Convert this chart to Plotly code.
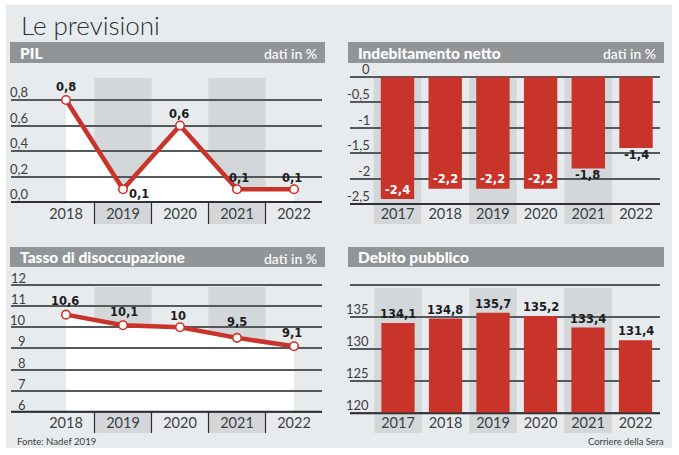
import plotly.graph_objects as go

# ---- data ----
TITLE = "Le previsioni"
years_line = ["2018", "2019", "2020", "2021", "2022"]
years_bar = ["2017", "2018", "2019", "2020", "2021", "2022"]
pil = [0.8, 0.1, 0.6, 0.1, 0.1]
pil_ticks = [0.0, 0.2, 0.4, 0.6, 0.8]
pil_ticktext = ["0,0", "0,2", "0,4", "0,6", "0,8"]
disocc = [10.6, 10.1, 10, 9.5, 9.1]
disocc_ticks = [6, 7, 8, 9, 10, 11, 12]
indeb = [-2.4, -2.2, -2.2, -2.2, -1.8, -1.4]
indeb_ticks = [0, -0.5, -1, -1.5, -2, -2.5]
indeb_ticktext = ["0", "-0,5", "-1", "-1,5", "-2", "-2,5"]
debito = [134.1, 134.8, 135.7, 135.2, 133.4, 131.4]
debito_ticks = [120, 125, 130, 135, 140]
debito_ticktext = ["120", "125", "130", "135", ""]

# ---- style ----
W, H = 679, 455
BG, BAND, HEAD = "#e7ebee", "#d3d7da", "#929597"
RED, GRID, TXT = "#c8332a", "#55595b", "#3c3e40"
FONT = "Lato"
VAL = "DejaVu Sans"

def px(x): return x / W
def py(y): return 1 - y / H

fig = go.Figure()
shapes, ann = [], []

def text(x, y, s, size=13, color=TXT, anchor="center", family=FONT, xref="paper", yref="paper", weight=None, **kw):
    f = dict(size=size, color=color, family=family)
    if weight:
        f["weight"] = weight
    ann.append(dict(x=x, y=y, text=s, xref=xref, yref=yref, showarrow=False, xanchor=anchor,
                    yanchor="middle", font=f, **kw))

def panel(n, left, right, top, bottom, x0pix, step, y0pix, yscale, y0val, cats, ticks):
    """Create axis pair n: x index 0 at x0pix, y0val at y0pix."""
    suffix = "" if n == 1 else str(n)
    fig.layout["xaxis" + suffix] = dict(
        domain=[px(left), px(right)], anchor="y" + suffix, type="category",
        categoryorder="array", categoryarray=cats,
        range=[(left - x0pix) / step, (right - x0pix) / step],
        showgrid=False, zeroline=False, showline=False, ticks="",
        ticklabelposition="inside", tickfont=dict(size=14.5, color=TXT, family=FONT),
        ticklabelstandoff=-1, fixedrange=True)
    fig.layout["yaxis" + suffix] = dict(
        domain=[py(bottom), py(top)], anchor="x" + suffix,
        range=[y0val - (bottom - y0pix) / yscale, y0val + (y0pix - top) / yscale],
        tickmode="array", tickvals=ticks, showticklabels=False, ticks="",
        showgrid=True, gridcolor=GRID, gridwidth=1.6, zeroline=False, showline=False, fixedrange=True)
    return "x" + suffix, "y" + suffix

def header(left, right, top, bottom, title, unit=True):
    shapes.append(dict(type="rect", xref="paper", yref="paper", x0=px(left), x1=px(right),
                       y0=py(bottom), y1=py(top), fillcolor=HEAD, line_width=0, layer="below"))
    text(px(left + 8), py((top + bottom) / 2), title, size=15.5, color="white",
         anchor="left", family="Lato", weight=900)
    if unit:
        text(px(right - 6), py((top + bottom) / 2 + 1), "dati in %", size=14, color="white", anchor="right", weight=500)

def bands(xr, idx, top, bottom):
    for i in idx:
        shapes.append(dict(type="rect", xref=xr, yref="paper", x0=i - .5, x1=i + .5,
                           y0=py(bottom), y1=py(top), fillcolor=BAND, line_width=0, layer="below"))

def white_under(xr, yr, vals, base):
    pts = [(0, base)] + list(enumerate(vals)) + [(len(vals) - 1, base)]
    path = "M " + " L ".join(f"{a},{b}" for a, b in pts) + " Z"
    shapes.append(dict(type="path", xref=xr, yref=yr, path=path, fillcolor="white", line_width=0, layer="below"))

def separators(xr, base_pix, bottom):
    for i in range(4):
        shapes.append(dict(type="line", xref=xr, yref="paper", x0=i + .5, x1=i + .5,
                           y0=py(bottom), y1=py(base_pix), line=dict(color="#2a2a2a", width=1.2), layer="above"))

def baseline(yr, left, right, value):
    shapes.append(dict(type="line", xref="paper", yref=yr, x0=px(left), x1=px(right), y0=value, y1=value,
                       line=dict(color="#2e3032", width=1.8), layer="above"))

def fmt(v): return str(v).replace(".", ",")

def line_trace(xr, yr, cats, vals):
    fig.add_trace(go.Scatter(x=cats, y=vals, xaxis=xr, yaxis=yr, mode="lines+markers", showlegend=False,
                             line=dict(color=RED, width=4.5),
                             marker=dict(size=8.5, color="white", line=dict(color=RED, width=1.6)),
                             cliponaxis=False))

def bar_trace(xr, yr, cats, vals, base=None):
    fig.add_trace(go.Bar(x=cats, y=[v - (base or 0) for v in vals], base=base, xaxis=xr, yaxis=yr,
                         width=0.7, marker=dict(color=RED, line_width=0), showlegend=False))

def tick_labels(vals, labels, xright, yr, shift):
    for v, s in zip(vals, labels):
        if s:
            text(px(xright), v, s, size=13, anchor="right", yref=yr, yshift=shift)

def value_labels(xr, yr, vals, xshifts, yshifts, colors=None):
    for i, v in enumerate(vals):
        text(i, v, "<b>" + fmt(v) + "</b>", size=11.5, family=VAL, xref=xr, yref=yr,
             xshift=xshifts[i], yshift=yshifts[i], color=(colors[i] if colors else "#1c1c1e"))

# background
shapes.append(dict(type="rect", xref="paper", yref="paper", x0=px(6), x1=px(672), y0=py(448), y1=py(5),
                   fillcolor=BG, line_width=0, layer="below"))
text(px(19), py(25), TITLE, size=26, color="#2c2e30", anchor="left", family="Lato", weight=300)
text(px(15), py(441), "Fonte: Nadef 2019", size=9.6, anchor="left")
text(px(666), py(441), "Corriere della Sera", size=9.4, anchor="right")

# PIL
xr, yr = panel(1, 11, 322, 78, 224, 66, 57, 202, 127.5, 0.0, years_line, pil_ticks)
header(10, 325, 42, 63, "PIL")
white_under(xr, yr, pil, 0)
bands(xr, [1, 3], 78, 224)
separators(xr, 202, 224)
baseline(yr, 11, 322, 0)
line_trace(xr, yr, years_line, pil)
tick_labels(pil_ticks, pil_ticktext, 30, yr, 8)
value_labels(xr, yr, pil, [0, 16, -1, 2, -2], [13, -5, 12, 11, 11])

# Indebitamento
xr, yr = panel(2, 350, 660, 75, 224, 397.5, 47.7, 77, 50.8, 0.0, years_bar, indeb_ticks)
header(348, 664, 42, 63, "Indebitamento netto")
bands(xr, [0, 2, 4], 77, 224)
bar_trace(xr, yr, years_bar, indeb)
baseline(yr, 350, 660, -2.5)
tick_labels(indeb_ticks, indeb_ticktext, 372, yr, 8)
value_labels(xr, yr, indeb, [0, 0, 0, 0, -1, 0], [9, 10, 10, 10, -7, -7],
             ["white", "white", "white", "white", "#1c1c1e", "#1c1c1e"])

# Tasso di disoccupazione
xr, yr = panel(3, 11, 322, 284, 433, 66, 57, 411.7, 21.1, 6, years_line, disocc_ticks)
header(10, 325, 247, 267, "Tasso di disoccupazione")
white_under(xr, yr, disocc, 6)
bands(xr, [1, 3], 287, 433)
separators(xr, 411.7, 433)
baseline(yr, 11, 322, 6)
line_trace(xr, yr, years_line, disocc)
tick_labels(disocc_ticks, [str(t) for t in disocc_ticks], 28, yr, 7)
value_labels(xr, yr, disocc, [-1, 1, -2, 0, -2], [14, 13, 11, 16, 13])

# Debito
xr, yr = panel(4, 350, 660, 284, 433, 398, 47.5, 413.3, 6.4, 120, years_bar, debito_ticks)
header(348, 664, 247, 267, "Debito pubblico", unit=False)
bands(xr, [0, 2, 4], 288, 433)
bar_trace(xr, yr, years_bar, debito, base=120)
baseline(yr, 350, 660, 120)
tick_labels(debito_ticks, debito_ticktext, 371, yr, 8)
value_labels(xr, yr, debito, [0, 0, 0, 0, 0, 0], [9, 9, 9, 9, 9, 9])

fig.update_layout(width=W, height=H, autosize=False, margin=dict(l=0, r=0, t=0, b=0),
                  paper_bgcolor="white", plot_bgcolor="rgba(0,0,0,0)", shapes=shapes, annotations=ann,
                  barmode="overlay", font=dict(family=FONT))
fig.write_html("out.html", config=dict(displayModeBar=False),
               post_script="document.body.style.margin='0';")
